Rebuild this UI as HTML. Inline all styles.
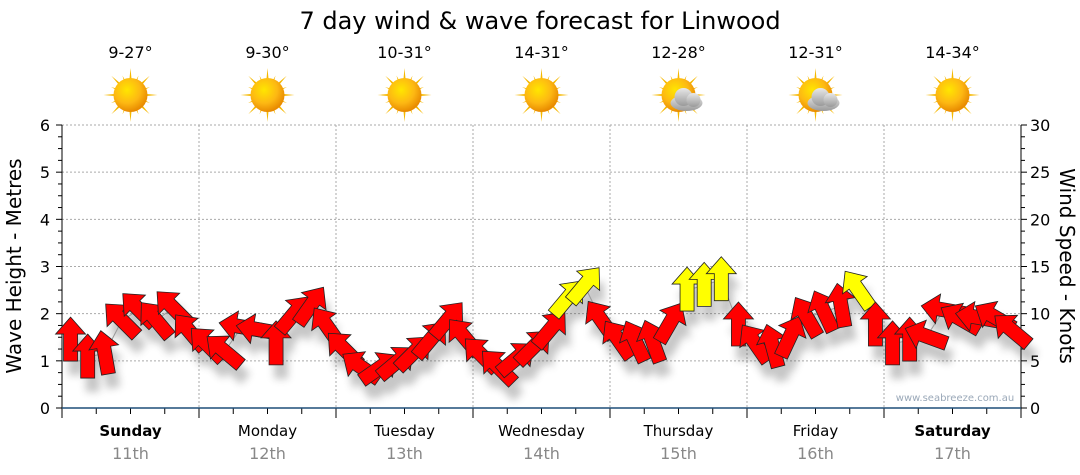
<!DOCTYPE html>
<html><head><meta charset="utf-8"><style>
body{margin:0;background:#fff;}
svg{display:block;font-family:"DejaVu Sans","Liberation Sans",sans-serif;}
</style></head><body>
<svg id="chart" width="1080" height="475" viewBox="0 0 1080 475">
<defs>
<filter id="sh" x="-50%" y="-50%" width="200%" height="200%"><feGaussianBlur stdDeviation="4"/></filter>
<radialGradient id="sunG" cx="40%" cy="35%" r="65%"><stop offset="0" stop-color="#ffe600"/><stop offset="0.6" stop-color="#fdb813"/><stop offset="1" stop-color="#e88a00"/></radialGradient>
<linearGradient id="cloudG" x1="0" y1="0" x2="0" y2="1"><stop offset="0" stop-color="#e8e8e8"/><stop offset="1" stop-color="#9a9a9a"/></linearGradient>
</defs>
<text x="540" y="29" text-anchor="middle" font-size="24" fill="#000">7 day wind &amp; wave forecast for Linwood</text>
<g id="grid"></g>
<g id="axes"></g>
<g id="header"></g>
<g id="shadows" filter="url(#sh)" opacity="0.3"></g>
<g id="marks"></g>
<text x="955" y="401" text-anchor="middle" font-size="10" fill="#9aa8b8">www.seabreeze.com.au</text>
<text transform="translate(21,266) rotate(-90)" text-anchor="middle" font-size="20">Wave Height - Metres</text>
<text transform="translate(1060,266) rotate(90)" text-anchor="middle" font-size="20">Wind Speed - Knots</text>
</svg>
<script>
const days = ["Sunday","Monday","Tuesday","Wednesday","Thursday","Friday","Saturday"];
const dates = ["11th","12th","13th","14th","15th","16th","17th"];
const boldDays = [true,false,false,false,false,false,true];
const temps = ["9-27°","9-30°","10-31°","14-31°","12-28°","12-31°","14-34°"];
const cloudy = [false,false,false,false,true,true,false];
const waveTicks = [0,1,2,3,4,5,6];
const windTicks = [0,5,10,15,20,25,30];
// wind speed (knots) every 3 hours, 8 per day
const windSpeed = [7.2,5.4,5.8,9.3,10.4,9.3,10.6,8.0,
 6.7,6.0,8.6,8.3,6.8,9.9,10.8,8.6,
 6.2,4.3,4.2,4.8,5.8,7.2,9.3,7.5,
 5.6,4.3,5.2,6.4,8.3,11.6,13,9.3,
 7.2,7.0,7.0,9.0,12.5,13,13.6,8.8,
 6.8,6.5,7.5,9.6,10.2,10.8,12.5,8.8,
 6.8,7.2,7.6,10.4,9.4,9.6,9.6,8.2];
// arrow heading in degrees (0 = pointing up, negative = left)
const windDir = [0,0,-10,-45,-45,-40,-45,-40,
 -45,-50,-80,-80,0,40,35,-35,
 -45,-55,55,50,45,40,40,-40,
 -45,-45,50,45,40,40,40,-35,
 -35,-25,-20,30,0,0,0,0,
 -35,-15,25,-30,-25,-10,-35,0,
 0,0,-70,-80,-60,-80,-60,-50];

const X0=62, X1=1021, Y0=408, Y1=125;
const ns="http://www.w3.org/2000/svg";
const xDay = d => X0 + d*(X1-X0)/7;
const xHour = h => X0 + h*(X1-X0)/(7*24);
const yWave = v => Y0 - v*(Y0-Y1)/6;
const yWind = v => Y0 - v*(Y0-Y1)/30;
function mk(tag, attrs, parent){const e=document.createElementNS(ns,tag);for(const k in attrs)e.setAttribute(k,attrs[k]);parent.appendChild(e);return e;}
const grid=document.getElementById('grid'), axes=document.getElementById('axes'), header=document.getElementById('header');
const marks=document.getElementById('marks'), shadows=document.getElementById('shadows');

waveTicks.forEach(v=>{
  if(v>0){const l=mk('line',{x1:X0,x2:X1,y1:yWave(v),y2:yWave(v),stroke:'#aaa','stroke-dasharray':'2,2'},grid);
  
  }
  const t=mk('text',{x:50,y:yWave(v)+6,'text-anchor':'end','font-size':16},axes);t.textContent=v;
  
  
});
windTicks.forEach(v=>{
  const t=mk('text',{x:1030,y:yWind(v)+6,'font-size':16},axes);t.textContent=v;
  
  
});
for(let i=0;i<=24;i++){const y=Y0-i*(Y0-Y1)/24;
  mk('line',{x1:X0-(i%4==0?6:4),x2:X0,y1:y,y2:y,stroke:'#000'},axes);
  mk('line',{x1:X1,x2:X1+(i%4==0?6:4),y1:y,y2:y,stroke:'#000'},axes);}
mk('line',{x1:X0,x2:X0,y1:Y1,y2:Y0,stroke:'#000'},axes);
mk('line',{x1:X1,x2:X1,y1:Y1,y2:Y0,stroke:'#000'},axes);
for(let d=1;d<7;d++){const l=mk('line',{x1:xDay(d),x2:xDay(d),y1:Y1,y2:Y0,stroke:'#aaa','stroke-dasharray':'2,2'},grid);
  
  }
for(let i=0;i<=28;i++){const x=X0+i*(X1-X0)/28;mk('line',{x1:x,x2:x,y1:Y0,y2:Y0+(i%4==0?10:6),stroke:'#000'},axes);}
const xa=mk('line',{x1:X0,x2:X1,y1:Y0,y2:Y0,stroke:'#1f4e79','stroke-width':1.5},axes);



days.forEach((d,i)=>{
  const cx=(xDay(i)+xDay(i+1))/2;
  const t=mk('text',{x:cx,y:436,'text-anchor':'middle','font-size':15,'font-weight':boldDays[i]?'bold':'normal'},axes);t.textContent=d;
  
  
  const t2=mk('text',{x:cx,y:459,'text-anchor':'middle','font-size':16,fill:'#888'},axes);t2.textContent=dates[i];
  
  
  const t3=mk('text',{x:cx,y:58,'text-anchor':'middle','font-size':16},header);t3.textContent=temps[i];
  
  
  const g=mk('g',{transform:`translate(${cx},95)`},header);
  
  
  for(let r=0;r<16;r++){const a=r*22.5, L=(r%2==0)?27:21;
    mk('polygon',{points:`-2.5,0 0,-${L} 2.5,0`,fill:'#f5b800',transform:`rotate(${a})`},g);}
  mk('circle',{r:17,fill:'url(#sunG)'},g);
  if(cloudy[i]){
    const c=mk('g',{transform:'translate(8,5)'},g);
    mk('ellipse',{cx:0,cy:3,rx:16,ry:8,fill:'url(#cloudG)'},c);
    mk('circle',{cx:-3,cy:-3,r:9,fill:'url(#cloudG)'},c);
    mk('circle',{cx:7,cy:0,r:7,fill:'url(#cloudG)'},c);
  }
});

// faint connecting line
let pts=windSpeed.map((v,i)=>`${xHour(i*3+1.5)},${yWind(v)}`).join(' ');
const pl=mk('polyline',{points:pts,fill:'none',stroke:'#999','stroke-width':1},marks);



const arrowPts="0,-23 15,-6 7,-6 7,21 -7,21 -7,-6 -15,-6";
windSpeed.forEach((v,i)=>{
  const x=xHour(i*3+1.5), y=yWind(v);
  mk('polygon',{points:arrowPts,fill:'#444',transform:`translate(${x+5},${y+14}) rotate(${windDir[i]})`},shadows);
  const a=mk('polygon',{points:arrowPts,fill:v>=11.5?'#ffff00':'#ff0000',stroke:'#222','stroke-width':0.8,'stroke-linejoin':'miter',transform:`translate(${x},${y}) rotate(${windDir[i]})`},marks);
  
  
});
</script>
</body></html>
